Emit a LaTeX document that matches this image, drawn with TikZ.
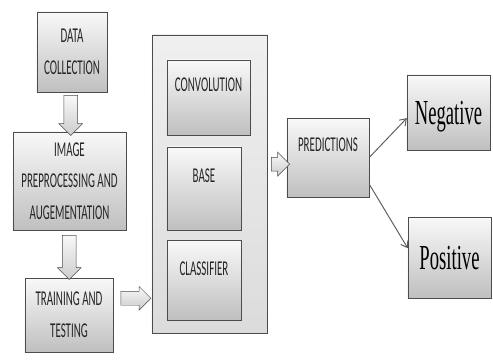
\documentclass[tikz,border=0pt]{standalone}
\usepackage{fontspec}
\newfontfamily\cajafont[FakeStretch=0.52]{Carlito}
\newfontfamily\salidafont[FakeStretch=0.53]{Liberation Serif}
\usetikzlibrary{shapes.arrows,shadows,arrows.meta,calc}

\begin{document}
\begin{tikzpicture}[x=0.03cm, y=-0.03cm,
    caja/.style={draw=black!70, top color=gray!5, bottom color=gray!50,
        drop shadow={opacity=0.35, shadow xshift=0.7pt, shadow yshift=-0.7pt},
        align=center, text=black!85, inner sep=2pt,
        font=\cajafont\fontsize{18}{27}\selectfont},
    salida/.style={caja, text=black, text depth=0pt,
        font=\salidafont\fontsize{30}{36}\selectfont},
    flecha/.style={single arrow, draw=black!70, top color=gray!5, bottom color=gray!40,
        text height=0.2cm, text depth=0.2cm, single arrow head extend=0.15cm, inner sep=0pt},
    linea/.style={draw=gray!70!black, thick, -{Straight Barb[length=5pt,width=7pt]}}]
    % Fija el marco
    \useasboundingbox (0,0) rectangle (493,362);

    % Dibuja las etapas de la izquierda
    \node[caja, minimum width=2.1cm, minimum height=2.4cm] (datos) at (72,52) {DATA\\COLLECTION};
    \node[caja, minimum width=3.39cm, minimum height=2.94cm] (prepro) at (69.5,181) {IMAGE\\PREPROCESSING AND\\AUGEMENTATION};
    \node[caja, minimum width=2.64cm, minimum height=2.22cm] (entreno) at (69,315) {TRAINING AND\\TESTING};

    % Dibuja el modelo y sus partes
    \node[caja, top color=gray!12, bottom color=gray!28, minimum width=3.45cm, minimum height=8.94cm] (modelo) at (209.5,184) {};
    \node[caja, minimum width=2.49cm, minimum height=2.25cm, text depth=0.75cm] (conv) at (208.5,97.5) {CONVOLUTION};
    \node[caja, minimum width=2.22cm, minimum height=2.49cm, text depth=0.75cm] (base) at (204,188.5) {BASE};
    \node[caja, minimum width=2.22cm, minimum height=2.4cm, text depth=0.7cm] (clasif) at (204,280) {CLASSIFIER};

    % Dibuja la prediccion y las salidas
    \node[caja, minimum width=2.46cm, minimum height=2.37cm, text depth=0.75cm] (pred) at (328,157.5) {PREDICTIONS};
    \node[salida, minimum width=2.49cm, minimum height=2.25cm] (neg) at (448.5,112.5) {Negative};
    \node[salida, minimum width=2.49cm, minimum height=2.43cm] (pos) at (449.5,257.5) {Positive};

    % Dibuja las flechas huecas
    \node[flecha, rotate=-90, minimum height=1.2cm] (f1) at ($(datos.south)!0.5!(prepro.north)$) {};
    \node[flecha, rotate=-90, minimum height=1.32cm] (f2) at ($(prepro.south)!0.5!(entreno.north)$) {};
    \node[flecha, minimum height=0.9cm, yshift=0.5cm] (f3) at ($(entreno.east)!0.5!(modelo.west |- entreno.east)$) {};
    \node[flecha, minimum height=0.55cm, yshift=-0.2cm] (f4) at ($(modelo.east |- pred.west)!0.5!(pred.west)$) {};

    % Dibuja las flechas finas
    \draw[linea] (pred.east) -- ([yshift=-0.17cm]neg.west);
    \draw[linea] ([yshift=-0.8cm]pred.east) -- ([yshift=0.28cm]pos.west);
\end{tikzpicture}
\end{document}
